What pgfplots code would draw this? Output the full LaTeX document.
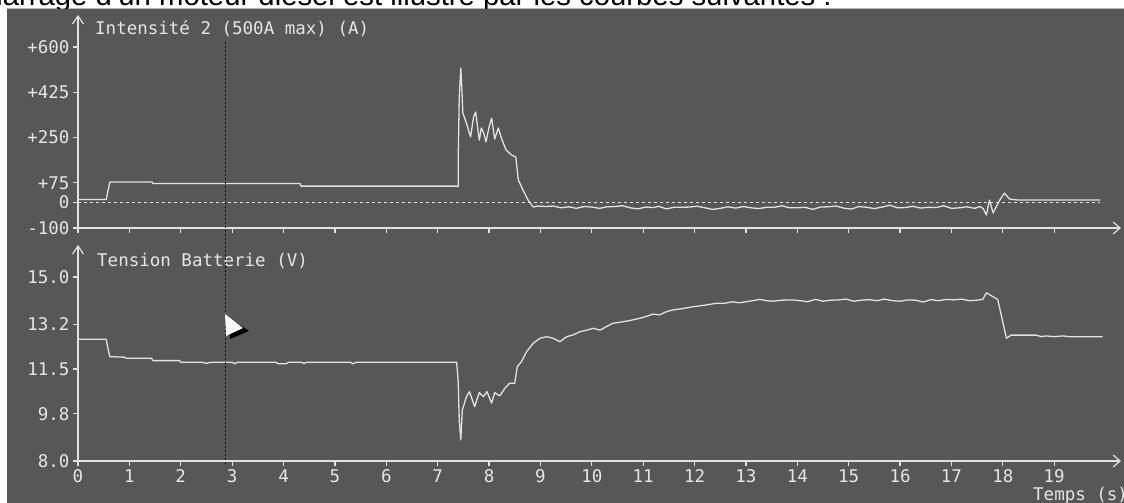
\documentclass[border=0pt]{standalone}
\usepackage{pgfplots}
\pgfplotsset{compat=1.18}
\usetikzlibrary{arrows.meta}
\usepackage{fontspec}
\setmainfont{Liberation Sans}
\newfontfamily\scopefont{DejaVu Sans Mono}

\definecolor{scopebg}{HTML}{575757}
\definecolor{trace}{HTML}{E2E2E2}
\definecolor{scopetxt}{HTML}{E6E6E6}

\pgfplotsset{
  scope axis/.style={
    scale only axis,
    width=1043bp,
    xmin=0, xmax=20.3,
    axis x line=bottom,
    axis y line=left,
    x axis line style={trace, line width=1.3bp, -{Straight Barb[length=7bp,width=12bp,line width=1.2bp]}},
    y axis line style={trace, line width=1.3bp, -{Straight Barb[length=8bp,width=11bp,line width=1.2bp]}},
    tick style={trace, line width=1.2bp},
    major tick length=5bp,
    tick align=outside,
    ticklabel style={font=\scopefont\fontsize{17.5bp}{20bp}\selectfont, text=scopetxt},
    xtick={0,1,...,19},
    clip=false,
  },
  trace line/.style={trace, line width=1.3bp, line join=round},
}

\begin{document}
\begin{tikzpicture}[x=1bp,y=1bp]
\useasboundingbox (0,0) rectangle (1124,503);
\fill[white] (0,0) rectangle (1124,503);
\fill[scopebg] (7,0) rectangle (1124,494);
\draw[gray!55, line width=1bp] (7,494) -- (1124,494);

% sentence introducing the figure, cut by the screen capture
\begin{scope}
  \clip (0,494.5) rectangle (1124,503);
  \node[anchor=base east, inner sep=0pt, font=\fontsize{29.3bp}{35bp}\selectfont]
    at (832,497) {Le démarrage d'un moteur diesel est illustré par les courbes suivantes :};
\end{scope}

% ---- current trace ----
\begin{axis}[scope axis,
  at={(78bp,275bp)}, anchor=south west,
  height=213bp,
  ymin=-100, ymax=724,
  ytick={600,425,250,75,0,-100},
  yticklabels={+600,+425,+250,+75,0,-100},
  xticklabels={},
]
\addplot[trace, line width=1bp, dash pattern=on 3bp off 3bp] coordinates {(0,0) (19.9,0)};
\addplot[trace line] coordinates {
(0,10) (0.55,10) (0.58,40) (0.62,78) (1.44,78) (1.46,72) (4.32,72) (4.34,62)
(7.36,62) (7.40,60) (7.40,171) (7.42,403) (7.45,519) (7.47,441) (7.49,345)
(7.56,306) (7.64,252) (7.70,330) (7.74,349) (7.81,240) (7.85,287) (7.90,265)
(7.94,233) (8.00,290) (8.05,325) (8.11,244) (8.18,287) (8.24,248) (8.33,202)
(8.44,182) (8.52,175) (8.57,86) (8.66,47) (8.76,8) (8.86,-19)
(8.95,-15) (9.10,-17) (9.25,-15) (9.40,-22) (9.55,-18) (9.70,-24) (9.85,-17)
(10.00,-19) (10.15,-24) (10.30,-18) (10.45,-17) (10.60,-14) (10.75,-22) (10.90,-26)
(11.05,-19) (11.20,-21) (11.30,-16) (11.45,-26) (11.60,-20) (11.75,-20) (11.90,-19)
(12.05,-16) (12.20,-22) (12.35,-28) (12.50,-24) (12.65,-18) (12.80,-23) (12.95,-17)
(13.10,-22) (13.25,-25) (13.40,-20) (13.55,-20) (13.70,-14) (13.85,-22) (14.00,-22)
(14.15,-20) (14.30,-28) (14.45,-19) (14.60,-18) (14.75,-15) (14.90,-23) (15.05,-27)
(15.20,-17) (15.35,-20) (15.50,-25) (15.65,-19) (15.80,-12) (15.95,-22) (16.10,-21)
(16.25,-16) (16.40,-23) (16.55,-20) (16.70,-21) (16.85,-14) (17.00,-24) (17.15,-22)
(17.30,-18) (17.45,-24) (17.55,-17) (17.62,-25) (17.68,-50) (17.74,8) (17.81,-42)
(17.88,-15) (17.94,8) (18.03,35) (18.13,12) (18.30,8) (19.00,8) (19.90,8)
};
\end{axis}

% ---- battery voltage trace ----
\begin{axis}[scope axis,
  at={(78bp,42bp)}, anchor=south west,
  height=216bp,
  ymin=8, ymax=16.22,
  ytick={15.0,13.2,11.5,9.8,8.0},
  yticklabels={15.0,13.2,11.5,9.8,8.0},
  xticklabels={0,1,2,3,4,5,6,7,8,9,10,11,12,13,14,15,16,17,18,19},
]
\addplot[trace line] coordinates {
(0,12.63) (0.55,12.63) (0.58,12.30) (0.62,11.97) (0.91,11.95) (0.93,11.91) (1.43,11.91)
(1.46,11.82) (1.98,11.82) (2.00,11.76) (2.40,11.76) (2.50,11.72) (2.60,11.76)
(3.00,11.76) (3.05,11.70) (3.10,11.76) (3.85,11.76) (3.90,11.70) (4.05,11.70)
(4.10,11.76) (4.35,11.76) (4.40,11.71) (4.45,11.76) (5.30,11.76) (5.35,11.70)
(5.42,11.76) (7.37,11.76)
(7.40,11.02) (7.42,9.56) (7.45,8.80) (7.48,9.94) (7.56,10.45) (7.62,10.64)
(7.67,10.35) (7.72,10.07) (7.81,10.60) (7.89,10.45) (7.96,10.64) (8.05,10.20)
(8.11,10.60) (8.21,10.48) (8.31,10.77) (8.40,10.96) (8.50,10.96) (8.55,11.59)
(8.63,11.78) (8.73,12.16) (8.86,12.48) (8.99,12.67) (9.12,12.73) (9.25,12.67)
(9.38,12.54) (9.51,12.73) (9.64,12.80) (9.77,12.92) (9.90,12.98) (10.03,13.05)
(10.16,12.98) (10.29,13.12) (10.41,13.24) (10.55,13.28) (10.67,13.32) (10.80,13.37)
(10.93,13.43) (11.06,13.50) (11.19,13.59) (11.32,13.56) (11.45,13.68) (11.58,13.75)
(11.77,13.80) (11.97,13.87) (12.20,13.93) (12.42,14.00) (12.58,14.00) (12.74,14.06)
(12.87,14.02) (13.00,14.06) (13.13,14.10) (13.27,14.15) (13.40,14.10) (13.53,14.08)
(13.70,14.12) (13.92,14.13) (14.05,14.10) (14.20,14.06) (14.35,14.15) (14.50,14.08)
(14.65,14.12) (14.80,14.13) (14.95,14.16) (15.10,14.08) (15.25,14.12) (15.40,14.14)
(15.55,14.10) (15.70,14.16) (15.85,14.10) (16.00,14.08) (16.15,14.13) (16.30,14.12)
(16.45,14.05) (16.60,14.14) (16.75,14.10) (16.90,14.15) (17.05,14.13) (17.20,14.16)
(17.35,14.10) (17.50,14.12) (17.61,14.15) (17.68,14.40) (17.81,14.25) (17.90,14.15)
(17.99,13.37) (18.07,12.67) (18.16,12.79) (18.65,12.79) (18.75,12.73) (18.84,12.76)
(19.00,12.73) (19.17,12.76) (19.30,12.73) (19.94,12.73)
};
\end{axis}

% channel names and time axis name
\begin{scope}[every node/.style={inner sep=0pt, text=scopetxt, font=\scopefont\fontsize{17.5bp}{20bp}\selectfont}]
  \node[anchor=base west] at (95,468) {Intensité 2 (500A max) (A)};
  \node[anchor=base west] at (97,236) {Tension Batterie (V)};
  \node[anchor=base west] at (1033,2) {Temps (s)};
\end{scope}

% measurement cursor
\draw[black, line width=1bp, dash pattern=on 2bp off 2bp] (225,461) -- (225,38);

% mouse pointer
\fill[black] (228,186) -- (230,164) -- (249,172) -- cycle;
\fill[white] (225,189) -- (226,167) -- (243,175) -- cycle;
\end{tikzpicture}
\end{document}
